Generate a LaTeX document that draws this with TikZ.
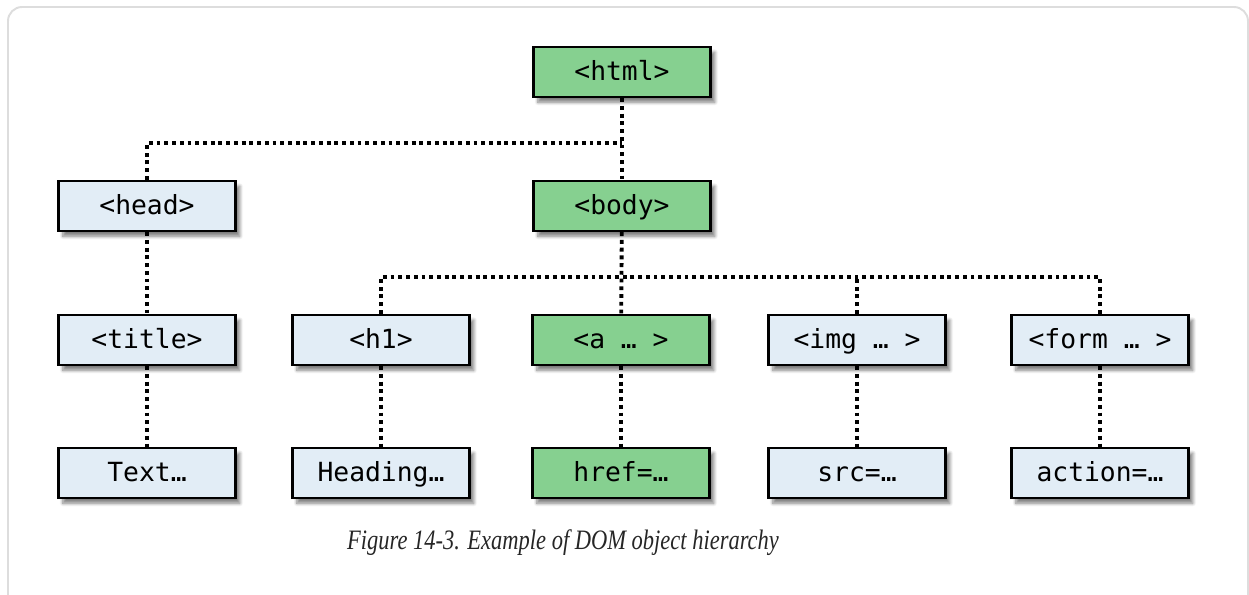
\documentclass[tikz,border=0pt]{standalone}
\usepackage{fontspec}
\setmainfont{Liberation Serif}
\setmonofont{DejaVu Sans Mono}
\newfontfamily\capfont[FakeStretch=0.8]{Liberation Serif}
\usetikzlibrary{shadows.blur}
\definecolor{taggreen}{RGB}{134,208,144}
\definecolor{tagblue}{RGB}{226,237,246}
\definecolor{framegray}{RGB}{221,221,221}

\begin{document}
\begin{tikzpicture}[
  x=0.02cm,y=-0.02cm,
  font=\ttfamily\fontsize{15}{17}\selectfont,
  tag/.style={draw=black,line width=1.4pt,fill=tagblue,minimum width=35.4mm,
    minimum height=10mm,inner sep=0pt,text height=13pt,text depth=3pt,
    blur shadow={shadow xshift=2.5pt,shadow yshift=-3pt,shadow blur steps=8,shadow opacity=50}},
  live/.style={tag,fill=taggreen},
  link/.style={line width=2.2pt,dash pattern=on 2.2pt off 2.2pt},
  caption/.style={font=\capfont\itshape\fontsize{16}{18}\selectfont,text=black!85}]
\path[use as bounding box] (0,0) rectangle (1249,595);
\draw[framegray,line width=1.1pt,rounded corners=8pt] (8,640) -- (8,7) -- (1248,7) -- (1248,640);

% tree of elements
\node[live] (html) at (622,72) {<html>};
\node[tag] (head) at (147,206) {<head>};
\node[live] (body) at (622,206) {<body>};
\node[tag] (title) at (147,340) {<title>};
\node[tag] (h1) at (381,340) {<h1>};
\node[live] (a) at (621,340) {<a … >};
\node[tag] (img) at (857,340) {<img … >};
\node[tag] (form) at (1100,340) {<form … >};
\node[tag] (text) at (147,473) {Text…};
\node[tag] (heading) at (381,473) {Heading…};
\node[live] (href) at (621,473) {href=…};
\node[tag] (src) at (857,473) {src=…};
\node[tag] (action) at (1100,473) {action=…};

\coordinate (hj) at (622,143);
\coordinate (bj) at (622,277);
\draw[link] (html) -- (body);
\draw[link] (head.north) |- (hj);
\draw[link] (body) -- (a);
\draw[link] (h1.north) |- (bj);
\draw[link] (form.north) |- (bj);
\draw[link] (img.north) -- (img.north |- bj);
\draw[link] (head) -- (title);
\draw[link] (title) -- (text);
\draw[link] (h1) -- (heading);
\draw[link] (a) -- (href);
\draw[link] (img) -- (src);
\draw[link] (form) -- (action);

\node[caption] (cap) at (563,543) {Figure 14-3. Example of DOM object hierarchy};
\end{tikzpicture}
\end{document}
